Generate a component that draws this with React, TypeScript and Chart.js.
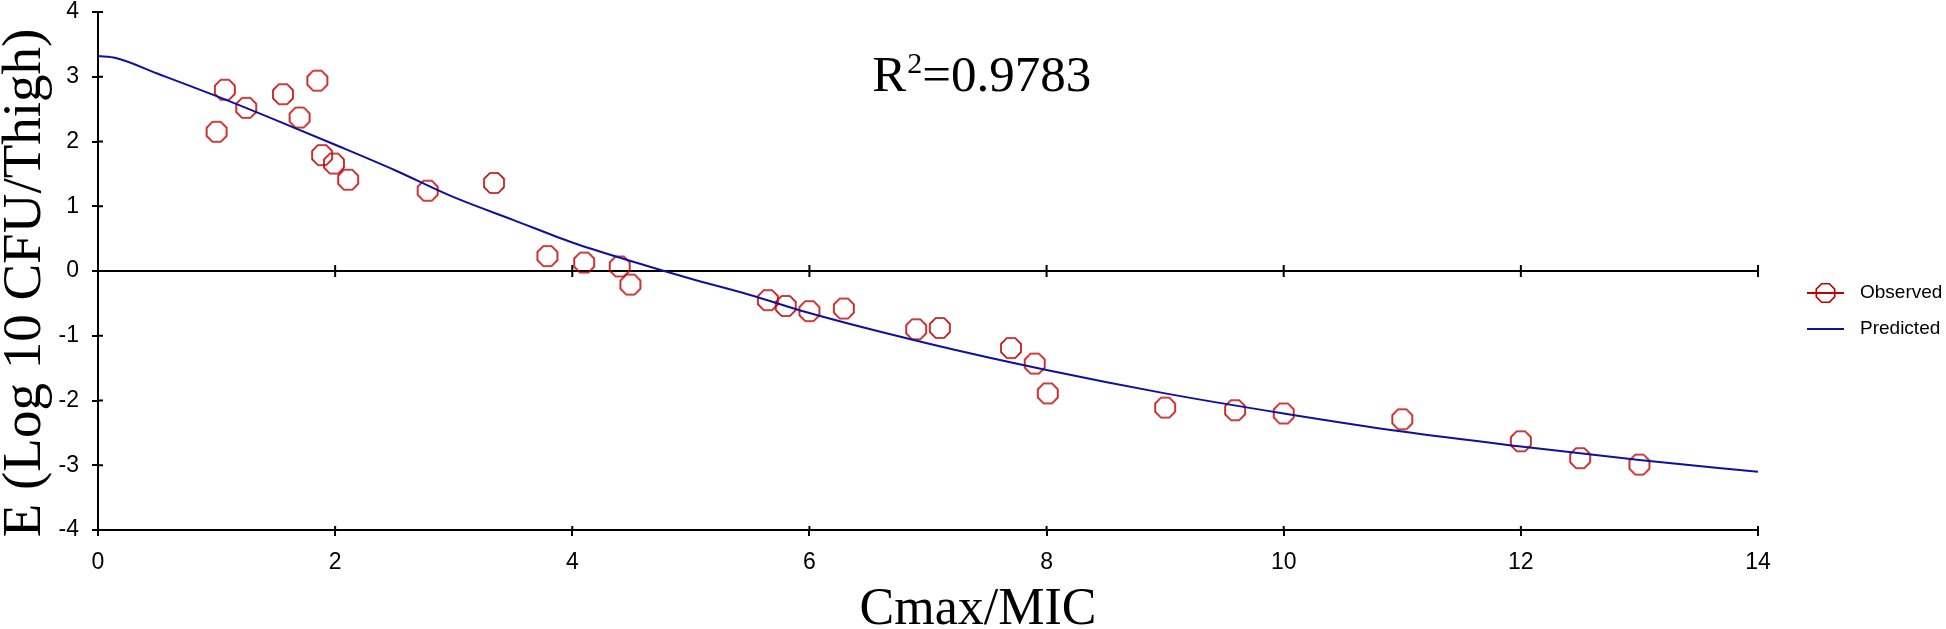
import React, { useEffect, useRef } from "react";
import { Chart, registerables } from "chart.js";

Chart.register(...registerables);

// Observed data (Cmax/MIC vs E)
const observedX = [1.0, 1.07, 1.25, 1.56, 1.85, 1.70, 1.89, 1.99, 2.11, 2.78, 3.34, 3.79, 4.10, 4.40, 4.49, 5.65, 5.80, 6.00, 6.29, 6.90, 7.10, 7.70, 7.90, 8.01, 9.00, 9.59, 10.0, 11.0, 12.0, 12.5, 13.0];
const observedY = [2.15, 2.80, 2.52, 2.73, 2.94, 2.37, 1.79, 1.66, 1.41, 1.24, 1.36, 0.23, 0.13, 0.07, -0.21, -0.45, -0.54, -0.62, -0.58, -0.90, -0.88, -1.19, -1.43, -1.89, -2.11, -2.15, -2.20, -2.29, -2.63, -2.89, -2.99];

// Predicted curve
const predictedX = [0, 0.15, 0.5, 1, 1.5, 2, 2.5, 3, 3.5, 4, 4.5, 5, 5.5, 6, 7, 8, 9, 10, 11, 12, 13, 14];
const predictedY = [3.32, 3.29, 3.05, 2.70, 2.33, 1.95, 1.56, 1.14, 0.79, 0.44, 0.15, -0.12, -0.37, -0.65, -1.12, -1.53, -1.89, -2.20, -2.48, -2.71, -2.92, -3.10];

const xTickValues = [0, 2, 4, 6, 8, 10, 12, 14];
const yTickValues = [-4, -3, -2, -1, 0, 1, 2, 3, 4];

const xTitle = "Cmax/MIC";
const yTitle = "E (Log 10 CFU/Thigh)";
const r2Label = "R";
const r2Sup = "2";
const r2Value = "=0.9783";
const legendLabels = ["Observed", "Predicted"];

const RED = "#bf0000";
const BLUE = "#10109c";
const SANS = "'Liberation Sans', Arial, sans-serif";
const SERIF = "'Liberation Serif', 'Times New Roman', serif";

function octagonPath(ctx: CanvasRenderingContext2D, cx: number, cy: number, r: number) {
  ctx.beginPath();
  for (let i = 0; i < 8; i++) {
    const a = (Math.PI / 8) + (i * Math.PI) / 4;
    const px = cx + r * Math.cos(a);
    const py = cy + r * Math.sin(a);
    if (i === 0) ctx.moveTo(px, py);
    else ctx.lineTo(px, py);
  }
  ctx.closePath();
}

function makeOctagon(): HTMLCanvasElement {
  const c = document.createElement("canvas");
  c.width = 26;
  c.height = 26;
  const g = c.getContext("2d")!;
  g.strokeStyle = RED;
  g.lineWidth = 1.6;
  octagonPath(g, 13, 13, 10.8);
  g.stroke();
  return c;
}

const decorPlugin = {
  id: "decor",
  beforeDatasetsDraw(chart: any) {
    const ctx = chart.ctx as CanvasRenderingContext2D;
    const xs = chart.scales.x;
    const ys = chart.scales.y;
    const y0 = ys.getPixelForValue(0);
    ctx.save();
    ctx.strokeStyle = "#000";
    ctx.lineWidth = 2;
    ctx.beginPath();
    ctx.moveTo(xs.left, y0);
    ctx.lineTo(xs.right, y0);
    ctx.stroke();
    ctx.beginPath();
    xTickValues.forEach((v) => {
      if (v === 0) return;
      const px = xs.getPixelForValue(v);
      ctx.moveTo(px, y0 - 6);
      ctx.lineTo(px, y0 + 6);
    });
    // inner halves of axis ticks
    yTickValues.forEach((v) => {
      const py = ys.getPixelForValue(v);
      ctx.moveTo(xs.left, py);
      ctx.lineTo(xs.left + 5, py);
    });
    xTickValues.forEach((v) => {
      const px = xs.getPixelForValue(v);
      ctx.moveTo(px, ys.bottom);
      ctx.lineTo(px, ys.bottom - 4);
    });
    ctx.stroke();
    ctx.restore();
  },
  afterDraw(chart: any) {
    const ctx = chart.ctx as CanvasRenderingContext2D;
    const xs = chart.scales.x;
    const ys = chart.scales.y;
    ctx.save();
    ctx.fillStyle = "#000";

    // Y title
    ctx.save();
    ctx.translate(40, 283);
    ctx.rotate(-Math.PI / 2);
    ctx.font = `55px ${SERIF}`;
    ctx.textAlign = "center";
    ctx.textBaseline = "alphabetic";
    ctx.fillText(yTitle, 0, 0);
    ctx.restore();

    // X title
    ctx.font = `52px ${SERIF}`;
    ctx.textAlign = "center";
    ctx.textBaseline = "alphabetic";
    ctx.fillText(xTitle, 978, 624);

    // R^2 annotation
    const rx = xs.getPixelForValue(6.53);
    const rBase = ys.getPixelForValue(2.78);
    ctx.textAlign = "left";
    ctx.font = `51px ${SERIF}`;
    ctx.fillText(r2Label, rx, rBase);
    let cx = rx + ctx.measureText(r2Label).width + 1;
    ctx.font = `30px ${SERIF}`;
    ctx.fillText(r2Sup, cx, rBase - 18);
    cx += ctx.measureText(r2Sup).width;
    ctx.font = `51px ${SERIF}`;
    ctx.fillText(r2Value, cx, rBase);

    // Legend
    const lx1 = 1807, lx2 = 1844, ly1 = 293, ly2 = 329;
    ctx.lineWidth = 2;
    ctx.strokeStyle = RED;
    ctx.beginPath();
    ctx.moveTo(lx1, ly1);
    ctx.lineTo(lx2, ly1);
    ctx.stroke();
    ctx.lineWidth = 1.6;
    octagonPath(ctx, (lx1 + lx2) / 2, ly1, 10);
    ctx.stroke();
    ctx.strokeStyle = BLUE;
    ctx.lineWidth = 2;
    ctx.beginPath();
    ctx.moveTo(lx1, ly2);
    ctx.lineTo(lx2, ly2);
    ctx.stroke();
    ctx.fillStyle = "#000";
    ctx.font = `19px ${SANS}`;
    ctx.textAlign = "left";
    ctx.textBaseline = "middle";
    ctx.fillText(legendLabels[0], 1860, ly1);
    ctx.fillText(legendLabels[1], 1860, ly2);
    ctx.restore();
  },
};

export default function App() {
  const ref = useRef<HTMLCanvasElement | null>(null);
  useEffect(() => {
    document.body.style.margin = "0";
    if (!ref.current) return;
    const octagon = makeOctagon();
    const chart = new Chart(ref.current, {
      type: "scatter",
      data: {
        datasets: [
          {
            label: legendLabels[0],
            data: observedX.map((x, i) => ({ x, y: observedY[i] })),
            showLine: false,
            pointStyle: octagon as any,
            pointRadius: 11,
            borderColor: RED,
            backgroundColor: "transparent",
            order: 1,
          },
          {
            label: legendLabels[1],
            type: "line",
            data: predictedX.map((x, i) => ({ x, y: predictedY[i] })),
            showLine: true,
            pointRadius: 0,
            borderColor: BLUE,
            borderWidth: 2,
            cubicInterpolationMode: "monotone",
            fill: false,
            order: 0,
          } as any,
        ],
      },
      options: {
        animation: false,
        responsive: false,
        devicePixelRatio: 1,
        layout: { padding: { left: 0, top: 12, right: 188, bottom: 0 } },
        plugins: { legend: { display: false }, tooltip: { enabled: false } },
        scales: {
          x: {
            type: "linear",
            min: 0,
            max: 14,
            afterBuildTicks: (s: any) => {
              s.ticks = xTickValues.map((v) => ({ value: v }));
            },
            afterFit: (s: any) => {
              s.height = 99;
              s.paddingLeft = 0;
              s.paddingRight = 0;
            },
            grid: { display: true, drawOnChartArea: false, drawTicks: true, tickLength: 6, color: "#000", lineWidth: 2 },
            border: { display: true, color: "#000", width: 2 },
            ticks: { color: "#000", font: { family: SANS, size: 23 }, padding: 13, maxRotation: 0, autoSkip: false },
          },
          y: {
            type: "linear",
            min: -4,
            max: 4,
            afterBuildTicks: (s: any) => {
              s.ticks = yTickValues.map((v) => ({ value: v }));
            },
            afterFit: (s: any) => {
              s.width = 98;
              s.paddingTop = 0;
              s.paddingBottom = 0;
            },
            grid: { display: true, drawOnChartArea: false, drawTicks: true, tickLength: 6, color: "#000", lineWidth: 2 },
            border: { display: true, color: "#000", width: 2 },
            ticks: { color: "#000", font: { family: SANS, size: 23 }, padding: 13, autoSkip: false },
          },
        },
      },
      plugins: [decorPlugin],
    });
    return () => chart.destroy();
  }, []);
  return (
    <div style={{ position: "absolute", left: 0, top: 0, width: 1946, height: 629, background: "#fff" }}>
      <canvas ref={ref} width={1946} height={629} style={{ width: 1946, height: 629, display: "block" }} />
    </div>
  );
}
